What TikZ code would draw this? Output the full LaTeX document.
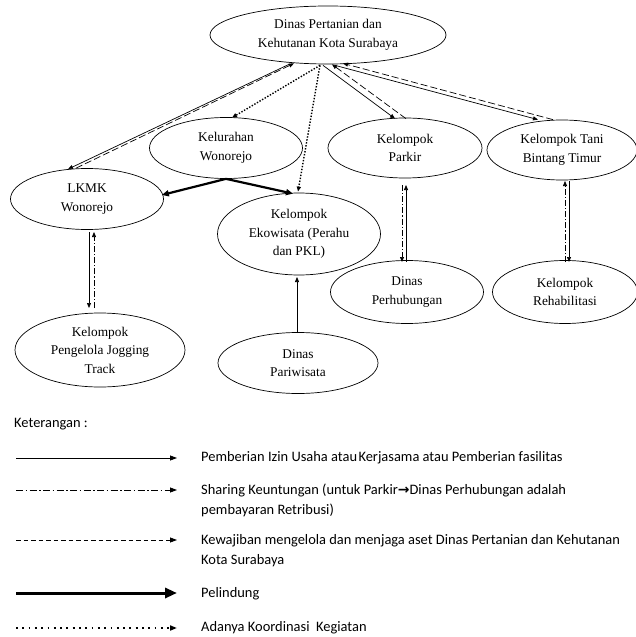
\documentclass[tikz,border=0pt]{standalone}
\usepackage{fontspec}
\setmainfont{Liberation Serif}
\newfontfamily\legfont{Carlito}
\newfontfamily\symf{DejaVu Sans}
\usetikzlibrary{shapes.geometric,arrows.meta,calc}
\begin{document}
\begin{tikzpicture}[x=1bp,y=-1bp,
  ell/.style={draw, ellipse, inner sep=0pt, align=center, line width=0.7bp,
    font=\fontsize{13.4}{18.5}\selectfont},
  tip/.style={-{Triangle[length=5bp,width=4bp]}},
  solidln/.style={tip, line width=0.7bp},
  dashln/.style={tip, line width=0.7bp, dash pattern=on 7bp off 3bp},
  dashdot/.style={tip, line width=0.7bp, dash pattern=on 6bp off 2bp on 1.2bp off 2bp},
  dotln/.style={tip, line width=1.4bp, dash pattern=on 1.4bp off 1.6bp},
  thickln/.style={-{Triangle[length=7bp,width=6bp]}, line width=2.2bp},
  legsolid/.style={-{Triangle[length=7bp,width=5bp]}, line width=0.8bp},
  legdashdot/.style={-{Triangle[length=7bp,width=5bp]}, line width=0.8bp, dash pattern=on 7bp off 2.5bp on 1.5bp off 2.5bp},
  legdash/.style={-{Triangle[length=7bp,width=5bp]}, line width=0.8bp, dash pattern=on 4.5bp off 3bp},
  legthick/.style={-{Triangle[length=12bp,width=10bp]}, line width=3bp},
  legdot/.style={-{Triangle[length=7bp,width=5bp]}, line width=1.8bp, dash pattern=on 1.8bp off 4.5bp},
  legtxt/.style={anchor=west, inner sep=0pt, align=left,
    font=\legfont\fontsize{14.5}{20}\selectfont}
]
\useasboundingbox (0,0) rectangle (636,637);

% nodes
\node[ell, minimum width=236bp, minimum height=58bp] (dinas) at (328,35) {Dinas Pertanian dan\\Kehutanan Kota Surabaya};
\node[ell, minimum width=153bp, minimum height=61bp] (kel) at (226,148) {Kelurahan\\Wonorejo};
\node[ell, minimum width=153bp, minimum height=61bp] (lkmk) at (87,199) {LKMK\\Wonorejo};
\node[ell, minimum width=163bp, minimum height=82bp] (eko) at (299,234) {Kelompok\\Ekowisata (Perahu\\dan PKL)};
\node[ell, minimum width=154bp, minimum height=60bp] (parkir) at (405,148) {Kelompok\\Parkir};
\node[ell, minimum width=150bp, minimum height=60bp] (tani) at (562,150) {Kelompok Tani\\Bintang Timur};
\node[ell, minimum width=153bp, minimum height=63bp] (perhub) at (407,292) {Dinas\\Perhubungan};
\node[ell, minimum width=145bp, minimum height=63bp] (rehab) at (565,292) {Kelompok\\Rehabilitasi};
\node[ell, minimum width=170bp, minimum height=74bp] (jog) at (100,350) {Kelompok\\Pengelola Jogging\\Track};
\node[ell, minimum width=160bp, minimum height=61bp] (pari) at (298,363) {Dinas\\Pariwisata};

% attachment points
\coordinate (hA) at ($(dinas.south)+(-39,0)$);
\coordinate (hB) at ($(dinas.south)+(-34,-1)$);
\coordinate (hC) at ($(dinas.south)+(-8,1)$);
\coordinate (hD) at ($(dinas.south)+(-5,1)$);
\coordinate (hE) at ($(dinas.south)+(4,0)$);
\coordinate (hF) at ($(dinas.south)+(7,1)$);
\coordinate (hG) at ($(dinas.south)+(15,-1)$);
\coordinate (lkA) at ($(lkmk.north)+(-19,1)$);
\coordinate (lkB) at ($(lkmk.north)+(-11,0)$);
\coordinate (kelT) at ($(kel.north)+(6,0.5)$);
\coordinate (ekoT) at ($(eko.north)+(-1,-1)$);
\coordinate (ekoT2) at ($(eko.north)+(-6,1)$);
\coordinate (lkE) at ($(lkmk.east)+(-2,-4)$);
\coordinate (pkA) at ($(parkir.north)+(-10,1)$);
\coordinate (pkB) at ($(parkir.north)+(1,1)$);
\coordinate (tnA) at ($(tani.north)+(-24,0)$);
\coordinate (tnB) at ($(tani.north)+(-9,0)$);
\coordinate (lkS1) at (89,232);
\coordinate (lkS2) at (94,232);
\coordinate (jgN1) at (89,308);
\coordinate (jgN2) at (94,308);
\coordinate (pkS1) at (402,185);
\coordinate (pkS2) at (406,185);
\coordinate (phN1) at (402,262);
\coordinate (phN2) at (406,262);
\coordinate (tnS1) at (565,181);
\coordinate (tnS2) at (569,181);
\coordinate (rhN1) at (565,262);
\coordinate (rhN2) at (569,262);
\coordinate (ekoS) at (297,277);
\coordinate (pariN) at (297,333);

% connectors
\draw[solidln] (hA) -- (lkA);
\draw[dashln] (lkB) -- (hB);
\draw[dotln] (hC) -- (kelT);
\draw[dotln] (hC) -- (ekoT);
\draw[solidln] (hD) -- (pkA);
\draw[dashln] (pkB) -- (hE);
\draw[solidln] (hF) -- (tnA);
\draw[dashln] (tnB) -- (hG);
\draw[thickln] (kel.south) -- (lkE);
\draw[thickln] (kel.south) -- (ekoT2);
\draw[solidln] (lkS1) -- (jgN1);
\draw[dashdot] (jgN2) -- (lkS2);
\draw[solidln] (pariN) -- (ekoS);
\draw[dashdot] (pkS1) -- (phN1);
\draw[solidln] (phN2) -- (pkS2);
\draw[dashdot] (rhN1) -- (tnS1);
\draw[solidln] (tnS2) -- (rhN2);

% legend
\node[legtxt] (ket) at (14,424) {Keterangan :};
\coordinate (l1a) at (16,458); \coordinate (l1b) at (177,458);
\coordinate (l2a) at (16,490); \coordinate (l2b) at (177,490);
\coordinate (l3a) at (16,540); \coordinate (l3b) at (177,540);
\coordinate (l4a) at (16,593); \coordinate (l4b) at (177,593);
\coordinate (l5a) at (16,628); \coordinate (l5b) at (177,628);
\draw[legsolid] (l1a) -- (l1b);
\draw[legdashdot] (l2a) -- (l2b);
\draw[legdash] (l3a) -- (l3b);
\draw[legthick] (l4a) -- (l4b);
\draw[legdot] (l5a) -- (l5b);
\node[legtxt] (t1) at (201,458) {Pemberian Izin Usaha atau\hspace{0.1em}Kerjasama atau Pemberian fasilitas};
\node[legtxt] (t2) at (201,500) {Sharing Keuntungan (untuk Parkir{\symf\bfseries\fontsize{14}{14}\selectfont →}Dinas Perhubungan adalah\\pembayaran Retribusi)};
\node[legtxt] (t3) at (201,551) {Kewajiban mengelola dan menjaga aset Dinas Pertanian dan Kehutanan\\Kota Surabaya};
\node[legtxt] (t4) at (201,594) {Pelindung};
\node[legtxt] (t5) at (201,628) {Adanya Koordinasi\ \ Kegiatan};
\end{tikzpicture}
\end{document}
